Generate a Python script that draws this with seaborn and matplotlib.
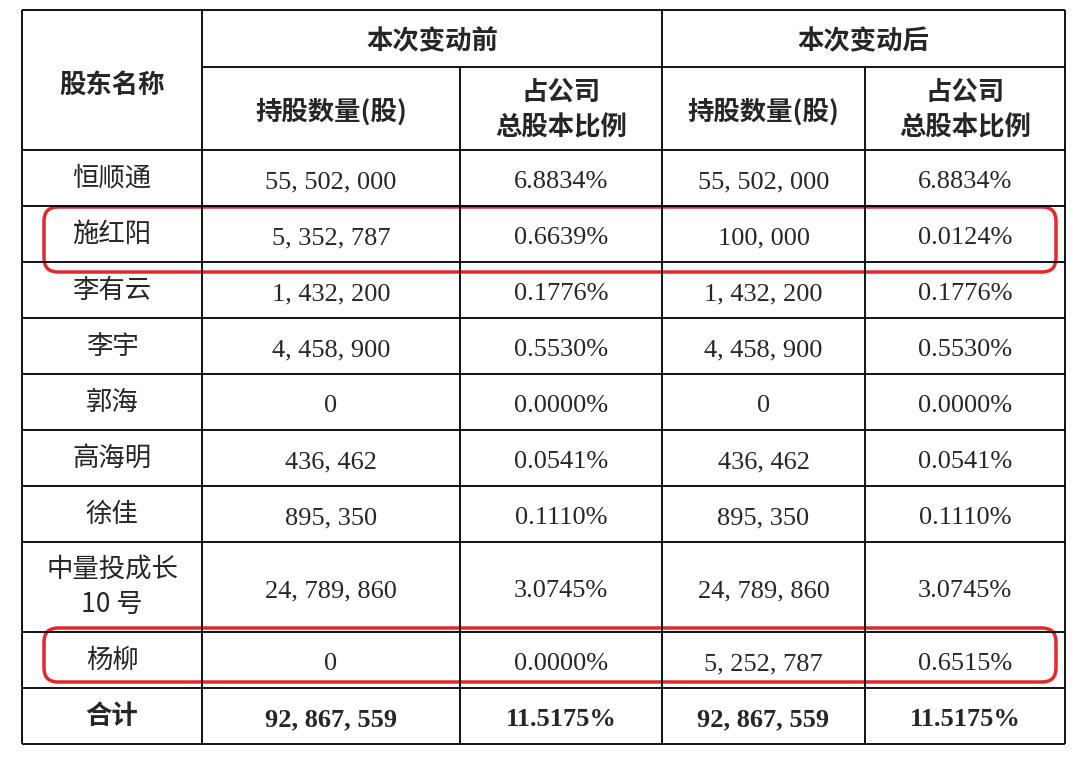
import matplotlib.pyplot as plt
import seaborn as sns
from matplotlib.patches import FancyBboxPatch

sns.set_theme(style="white")
plt.rcParams['font.family'] = ['Noto Sans CJK SC', 'DejaVu Sans']

# table data
names = ['恒顺通', '施红阳', '李有云', '李宇', '郭海', '高海明', '徐佳', '中量投成长\n10 号', '杨柳', '合计']
before_shares = ['55,502,000', '5,352,787', '1,432,200', '4,458,900', '0', '436,462',
                 '895,350', '24,789,860', '0', '92,867,559']
before_pct = ['6.8834%', '0.6639%', '0.1776%', '0.5530%', '0.0000%', '0.0541%',
              '0.1110%', '3.0745%', '0.0000%', '11.5175%']
after_shares = ['55,502,000', '100,000', '1,432,200', '4,458,900', '0', '436,462',
                '895,350', '24,789,860', '5,252,787', '92,867,559']
after_pct = ['6.8834%', '0.0124%', '0.1776%', '0.5530%', '0.0000%', '0.0541%',
             '0.1110%', '3.0745%', '0.6515%', '11.5175%']
# highlighted rows: (name, top, bottom) of red box
highlight_boxes = [('施红阳', 207, 272), ('杨柳', 628, 682)]

col_x = [22, 202, 460, 662, 865, 1065]
head_y = [10, 67, 150]
row_y = [150, 206, 262, 318, 374, 430, 486, 542, 632, 688, 744]

fig = plt.figure(figsize=(10.8, 7.64), dpi=100)
ax = fig.add_axes([0, 0, 1, 1])
ax.set_xlim(0, 1080)
ax.set_ylim(764, 0)
ax.axis('off')

lw = 1.3
ax.hlines([head_y[0], row_y[-1]], col_x[0], col_x[-1], color='black', lw=lw)
ax.hlines(head_y[1], col_x[1], col_x[-1], color='black', lw=lw)
ax.hlines(row_y[:-1], col_x[0], col_x[-1], color='black', lw=lw)
ax.vlines([col_x[0], col_x[1], col_x[3], col_x[5]], head_y[0], row_y[-1], color='black', lw=lw)
ax.vlines([col_x[2], col_x[4]], head_y[1], row_y[-1], color='black', lw=lw)

def fmt(s):
    return s.replace(',', ', ')

fs = 19
nfs = 19
cx = [(col_x[i] + col_x[i + 1]) / 2 for i in range(5)]
ax.text(cx[0], 85, '股东名称', ha='center', va='center', fontsize=fs, fontweight='bold')
ax.text((col_x[1] + col_x[3]) / 2, 42, '本次变动前', ha='center', va='center', fontsize=fs, fontweight='bold')
ax.text((col_x[3] + col_x[5]) / 2, 42, '本次变动后', ha='center', va='center', fontsize=fs, fontweight='bold')
for i in (1, 3):
    ax.text(cx[i], 112, '持股数量(股)', ha='center', va='center', fontsize=fs, fontweight='bold')
    ax.text(cx[i + 1], 110, '占公司\n总股本比例', ha='center', va='center', fontsize=fs,
            fontweight='bold', linespacing=1.4)

for r, name in enumerate(names):
    yc = (row_y[r] + row_y[r + 1]) / 2
    bold = 'bold' if name == '合计' else 'normal'
    ax.text(cx[0], yc, name, ha='center', va='center', fontsize=fs, fontweight=bold, linespacing=1.4)
    vals = [before_shares[r], before_pct[r], after_shares[r], after_pct[r]]
    for c, v in enumerate(vals):
        ax.text(cx[c + 1], yc + 4, fmt(v), ha='center', va='center', fontsize=nfs,
                fontweight=bold, family=['Liberation Serif', 'DejaVu Serif'])

for name, top, bottom in highlight_boxes:
    box = FancyBboxPatch((44, top), 1012, bottom - top,
                         boxstyle="round,pad=0,rounding_size=14",
                         fill=False, edgecolor='#e0282e', lw=2.5)
    ax.add_patch(box)

fig.savefig('out.png', dpi=100, facecolor='white')
